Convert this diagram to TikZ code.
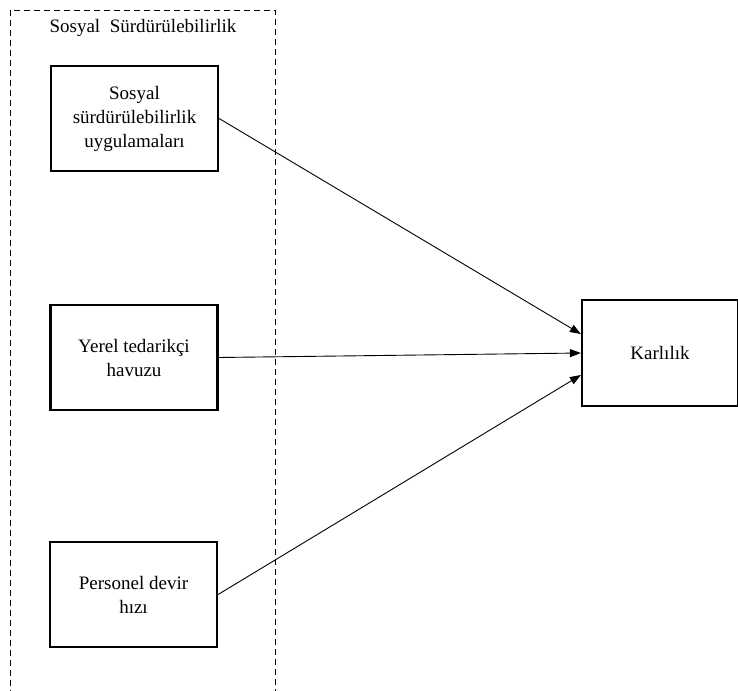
\documentclass[tikz,border=0pt]{standalone}
\usepackage{fontspec}
\setmainfont{Liberation Serif}
\usetikzlibrary{arrows.meta}
\begin{document}
\begin{tikzpicture}[x=1pt,y=-1pt,
  varbox/.style={draw,line width=2.2pt,minimum width=167pt,minimum height=105pt,
    align=center,font=\fontsize{19}{24}\selectfont,inner sep=0pt},
  link/.style={line width=0.9pt,-{Triangle[length=11pt,width=8pt]}},
  group/.style={draw,line width=0.8pt,dash pattern=on 6pt off 4pt}]
\useasboundingbox (0,0) rectangle (738,690);
% dashed group frame, running past the lower edge
\draw[group] (10,10) rectangle (275,700);
\node[font=\fontsize{19}{21}\selectfont] (title) at (143,28) {Sosyal\ \ Sürdürülebilirlik};
% independent variables
\node[varbox] (a) at (134.5,118.5) {Sosyal\\sürdürülebilirlik\\uygulamaları};
\node[varbox] (b) at (134,357.5) {Yerel tedarikçi\\havuzu};
\node[varbox] (c) at (133.5,594.5) {Personel devir\\hızı};
% dependent variable
\node[varbox,minimum width=156pt,minimum height=106pt] (k) at (660,353) {Karlılık};
% effects
\draw[link] (a.east) -- ([yshift=19pt]k.west);
\draw[link] (b.east) -- (k.west);
\draw[link] (c.east) -- ([yshift=-22pt]k.west);
\end{tikzpicture}
\end{document}
